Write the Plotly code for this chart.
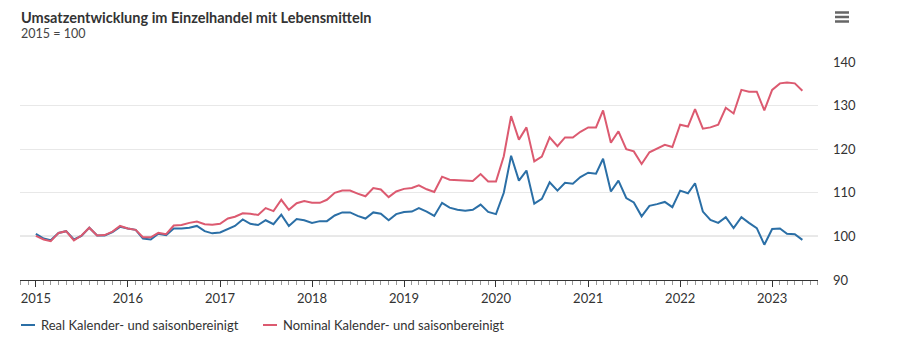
import pandas as pd
import plotly.graph_objects as go

months = pd.date_range("2015-01-01", periods=101, freq="MS")

real = [100.6, 99.5, 99.1, 100.8, 101.2, 99.3, 100.1, 102.0, 100.2, 100.2, 101.0, 102.2,
        101.8, 101.5, 99.5, 99.3, 100.6, 100.3, 101.8, 101.8, 102.0, 102.4, 101.2, 100.7,
        100.9, 101.6, 102.4, 103.9, 102.9, 102.6, 103.7, 102.8, 105.0, 102.4, 104.0, 103.7,
        103.1, 103.5, 103.5, 104.8, 105.5, 105.5, 104.7, 104.1, 105.5, 105.2, 103.7, 105.1,
        105.6, 105.7, 106.5, 105.7, 104.7, 107.7, 106.6, 106.1, 105.9, 106.1, 107.3, 105.6,
        105.1, 110.0, 118.5, 112.8, 115.1, 107.5, 108.6, 112.4, 110.5, 112.3, 112.1, 113.6,
        114.6, 114.4, 117.8, 110.3, 112.8, 108.8, 107.8, 104.6, 107.0, 107.4, 107.9, 106.7,
        110.5, 109.9, 112.2, 105.7, 103.8, 103.1, 104.4, 101.9, 104.4, 103.1, 101.9, 98.1,
        101.7, 101.8, 100.6, 100.5, 99.2]

nominal = [100.1, 99.3, 98.9, 100.8, 101.2, 99.1, 100.2, 102.0, 100.2, 100.3, 101.1, 102.4,
           101.8, 101.5, 99.8, 99.8, 100.8, 100.5, 102.5, 102.6, 103.1, 103.4, 102.8, 102.7,
           102.9, 104.1, 104.5, 105.3, 105.2, 104.9, 106.5, 105.8, 108.4, 106.1, 107.6, 108.1,
           107.7, 107.7, 108.4, 110.0, 110.5, 110.5, 109.8, 109.2, 111.1, 110.75, 109.0, 110.3,
           110.9, 111.1, 111.7, 110.8, 110.2, 113.7, 113.0, 112.9, 112.7, 112.7, 114.3, 112.6,
           112.6, 118.4, 127.6, 122.2, 125.0, 117.2, 118.3, 122.7, 120.7, 122.7, 122.7, 124.0,
           125.0, 125.0, 128.9, 121.5, 124.1, 120.0, 119.5, 116.6, 119.3, 120.1, 121.0, 120.5,
           125.6, 125.2, 129.2, 124.7, 125.0, 125.6, 129.5, 128.2, 133.6, 133.2, 133.2, 128.9,
           133.6, 135.1, 135.3, 135.1, 133.4]

series_names = ["Real Kalender- und saisonbereinigt", "Nominal Kalender- und saisonbereinigt"]
colors = ["#2b6fa6", "#dc5a70"]
y_ticks = [90, 100, 110, 120, 130, 140]

FONT = "Lato"

# plot area in pixels
L, R, T, B = 20, 818, 62, 280
W, H = R - L, B - T


def px(x):
    return (x - L) / W


def py(y):
    return (B - y) / H


fig = go.Figure()
for name, vals, col in zip(series_names, [real, nominal], colors):
    fig.add_trace(go.Scatter(x=months, y=vals, mode="lines", name=name,
                             line=dict(color=col, width=2), showlegend=False))

fig.add_hline(y=100, line=dict(color="#333333", width=1), layer="below")

# hamburger menu icon
for yy in [12.5, 17, 21.5]:
    fig.add_shape(type="line", xref="paper", yref="paper",
                  x0=px(835), x1=px(849), y0=py(yy), y1=py(yy),
                  line=dict(color="#666666", width=2.5))

annotations = [
    dict(text="<b>Umsatzentwicklung im Einzelhandel mit Lebensmitteln</b>",
         xref="paper", yref="paper", x=px(19), y=py(17),
         xanchor="left", yanchor="middle", showarrow=False,
         font=dict(family=FONT, size=14.5, color="#333333")),
    dict(text="2015 = 100",
         xref="paper", yref="paper", x=px(19), y=py(33),
         xanchor="left", yanchor="middle", showarrow=False,
         font=dict(family=FONT, size=12.5, color="#444444")),
]

# manual legend
legend_x = [21, 263]
for name, col, lx in zip(series_names, colors, legend_x):
    fig.add_shape(type="line", xref="paper", yref="paper",
                  x0=px(lx), x1=px(lx + 14), y0=py(325), y1=py(325),
                  line=dict(color=col, width=2))
    annotations.append(dict(text=name, xref="paper", yref="paper",
                            x=px(lx + 18), y=py(325), xanchor="left", yanchor="middle",
                            showarrow=False,
                            font=dict(family=FONT, size=13, color="#333333")))

fig.update_layout(
    width=900, height=341,
    margin=dict(l=L, r=900 - R, t=T, b=341 - B, autoexpand=False),
    paper_bgcolor="white", plot_bgcolor="white",
    font=dict(family=FONT, size=13, color="#333333"),
    showlegend=False,
    annotations=annotations,
)

fig.update_xaxes(
    type="date", range=["2014-10-30", "2023-07-02"],
    dtick="M12", tick0="2015-01-01", tickformat="%Y",
    showgrid=False, showline=True, linecolor="#333333", linewidth=1,
    ticks="outside", ticklen=6, tickcolor="#333333", tickwidth=1,
    minor=dict(dtick="M1", tick0="2015-01-01", ticks="outside", ticklen=4,
               tickcolor="#999999", tickwidth=1, showgrid=False),
    tickfont=dict(family=FONT, size=13, color="#333333"),
    zeroline=False, fixedrange=True,
)

fig.update_yaxes(
    side="right", range=[90, 140], tickvals=y_ticks,
    showgrid=True, gridcolor="#e8e8e8", gridwidth=1,
    showline=False, zeroline=False, ticks="",
    ticklabelstandoff=14,
    tickfont=dict(family=FONT, size=13, color="#333333"),
    fixedrange=True,
)

fig.write_html("out.html")
